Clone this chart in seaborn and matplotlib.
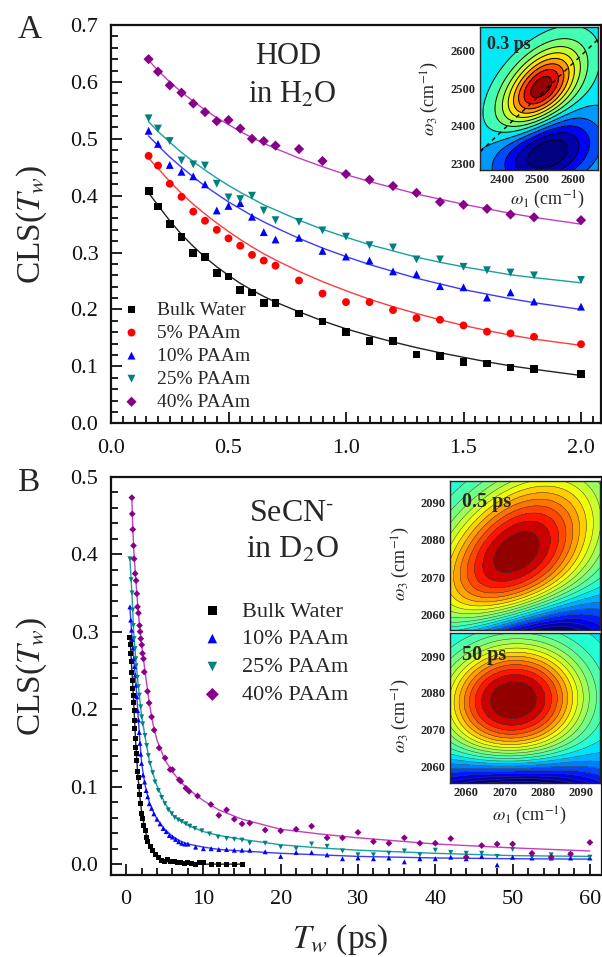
import numpy as np
import seaborn as sns
import matplotlib.pyplot as plt
from matplotlib.ticker import MultipleLocator, FormatStrFormatter

# ---------------- Panel A: HOD in H2O ----------------
tw_a = [0.16, 0.2, 0.25, 0.3, 0.35, 0.4, 0.45, 0.5, 0.55, 0.6, 0.65, 0.7,
        0.8, 0.9, 1.0, 1.1, 1.2, 1.3, 1.4, 1.5, 1.6, 1.7, 1.8, 2.0]
bulk_a = [0.409, 0.381, 0.350, 0.328, 0.300, 0.292, 0.264, 0.258, 0.234, 0.230, 0.212, 0.211,
          0.193, 0.179, 0.161, 0.145, 0.145, 0.121, 0.119, 0.108, 0.105, 0.098, 0.095, 0.087]
p5_a = [0.470, 0.453, 0.421, 0.398, 0.372, 0.356, 0.340, 0.325, 0.312, 0.296, 0.286, 0.277,
        0.251, 0.228, 0.213, 0.213, 0.199, 0.185, 0.182, 0.172, 0.161, 0.158, 0.152, 0.139]
p10_a = [0.514, 0.491, 0.454, 0.442, 0.434, 0.420, 0.374, 0.382, 0.387, 0.363, 0.336, 0.323,
         0.326, 0.303, 0.293, 0.286, 0.267, 0.262, 0.241, 0.239, 0.221, 0.230, 0.214, 0.205]
p25_a = [0.536, 0.518, 0.496, 0.462, 0.455, 0.453, 0.421, 0.397, 0.394, 0.400, 0.374, 0.357,
         0.354, 0.339, 0.328, 0.313, 0.309, 0.288, 0.288, 0.275, 0.269, 0.265, 0.260, 0.252]
p40_a = [0.640, 0.618, 0.594, 0.581, 0.562, 0.547, 0.531, 0.533, 0.518, 0.500, 0.496, 0.488,
         0.482, 0.461, 0.438, 0.428, 0.417, 0.405, 0.389, 0.384, 0.377, 0.367, 0.362, 0.357]

# fit curves (same Tw grid)
fit_bulk_a = [0.405, 0.383, 0.356, 0.332, 0.311, 0.292, 0.275, 0.260, 0.246, 0.234, 0.223, 0.213,
              0.196, 0.180, 0.166, 0.154, 0.143, 0.133, 0.124, 0.116, 0.108, 0.101, 0.095, 0.084]
fit_p5_a = [0.466, 0.448, 0.425, 0.404, 0.385, 0.368, 0.352, 0.337, 0.323, 0.310, 0.298, 0.287,
            0.267, 0.249, 0.233, 0.218, 0.205, 0.193, 0.182, 0.172, 0.163, 0.155, 0.148, 0.137]
fit_p10_a = [0.505, 0.488, 0.468, 0.450, 0.433, 0.417, 0.403, 0.389, 0.377, 0.365, 0.354, 0.344,
             0.325, 0.308, 0.293, 0.279, 0.267, 0.255, 0.245, 0.235, 0.227, 0.219, 0.212, 0.200]
fit_p25_a = [0.530, 0.513, 0.494, 0.476, 0.460, 0.445, 0.431, 0.418, 0.406, 0.395, 0.384, 0.375,
             0.357, 0.341, 0.327, 0.314, 0.303, 0.292, 0.283, 0.275, 0.268, 0.261, 0.256, 0.247]
fit_p40_a = [0.638, 0.620, 0.600, 0.582, 0.566, 0.551, 0.537, 0.525, 0.513, 0.502, 0.492, 0.483,
             0.466, 0.451, 0.437, 0.425, 0.414, 0.403, 0.394, 0.385, 0.377, 0.369, 0.362, 0.350]

# ---------------- Panel B: SeCN- in D2O ----------------
bulk_b_x = [0.5, 0.55, 0.6, 0.65, 0.7, 0.8, 0.85, 0.9, 1.0, 1.05, 1.1, 1.15, 1.2, 1.25, 1.3,
            1.4, 1.5, 1.6, 1.7, 1.8, 1.9, 2.0, 2.1, 2.3, 2.5, 2.6, 2.8, 3.1, 3.4, 3.8, 4.2,
            4.6, 5.0, 5.4, 5.8, 6.2, 6.6, 7.0, 7.5, 8.0, 8.5, 9.0, 9.5, 10, 11, 12, 13, 14, 15]
bulk_b_y = [0.293, 0.283, 0.272, 0.262, 0.247, 0.237, 0.227, 0.218, 0.209, 0.198, 0.186, 0.175,
            0.162, 0.150, 0.143, 0.134, 0.119, 0.112, 0.100, 0.090, 0.078, 0.066, 0.059, 0.050,
            0.043, 0.035, 0.029, 0.023, 0.018, 0.013, 0.009, 0.005, 0.004, 0.006, 0.003, 0.004,
            0.002, 0.002, 0.001, 0.002, 0.001, 0.000, 0.002, 0.002, 0.000, 0.000, 0.000, 0.000,
            -0.001]
p10_b_x = [0.5, 0.6, 0.7, 0.8, 0.9, 1.0, 1.1, 1.2, 1.3, 1.4, 1.5, 1.6, 1.7, 1.8, 1.9, 2.0,
           2.2, 2.4, 2.6, 2.8, 3.0, 3.3, 3.6, 4.0, 4.4, 4.8, 5.2, 5.6, 6.0, 6.4, 6.8, 7.2, 7.6,
           8.0, 9.0, 10, 11, 12, 13, 14, 15, 16, 18, 20, 22, 24, 26, 28, 30, 32, 34, 36, 38,
           40, 42, 44, 46, 48, 50, 52.5, 55, 57.5, 60]
p10_b_y = [0.332, 0.315, 0.302, 0.290, 0.279, 0.265, 0.255, 0.244, 0.231, 0.216, 0.198, 0.186,
           0.170, 0.156, 0.142, 0.130, 0.115, 0.106, 0.095, 0.087, 0.078, 0.072, 0.065, 0.058,
           0.052, 0.046, 0.042, 0.037, 0.035, 0.032, 0.029, 0.027, 0.026, 0.026, 0.022, 0.020,
           0.020, 0.019, 0.019, 0.018, 0.018, 0.018, 0.016, 0.010, 0.015, 0.015, 0.012, 0.007,
           0.008, 0.007, 0.008, 0.003, 0.007, 0.007, 0.009, 0.007, 0.010, -0.001, 0.009, 0.008,
           0.008, 0.008, 0.008]
p25_b_x = [0.5, 0.65, 0.77, 0.86, 0.94, 1.03, 1.16, 1.25, 1.3, 1.46, 1.59, 1.72, 1.9, 2.02,
           2.15, 2.45, 2.67, 2.88, 3.1, 3.44, 3.74, 4.17, 4.6, 5.03, 5.46, 5.9, 6.3, 6.75, 7.2,
           7.74, 8.26, 8.9, 9.8, 10.8, 11.9, 13, 14, 15, 16, 18, 20, 22, 24, 26, 28, 30, 32,
           34, 36, 38, 40, 42, 44, 46, 48, 50, 52.5, 55, 57.5, 60]
p25_b_y = [0.394, 0.367, 0.350, 0.328, 0.308, 0.291, 0.278, 0.265, 0.256, 0.241, 0.229, 0.218,
           0.203, 0.190, 0.181, 0.166, 0.153, 0.140, 0.130, 0.118, 0.106, 0.095, 0.086, 0.078,
           0.070, 0.065, 0.060, 0.057, 0.055, 0.052, 0.049, 0.046, 0.043, 0.039, 0.035, 0.033,
           0.032, 0.031, 0.027, 0.027, 0.022, 0.020, 0.026, 0.023, 0.017, 0.012, 0.012, 0.014,
           0.017, 0.012, 0.018, 0.015, 0.014, 0.014, 0.010, 0.019, 0.009, 0.012, 0.012, 0.009]
p40_b_x = [0.75, 0.8, 0.87, 0.96, 1.04, 1.17, 1.3, 1.39, 1.48, 1.6, 1.74, 1.81, 1.9, 2.03,
           2.12, 2.25, 2.35, 2.77, 2.98, 3.3, 3.63, 4.28, 5.05, 5.7, 6.0, 6.87, 7.08, 7.73,
           8.16, 9.25, 10.97, 12.0, 13.0, 14.0, 15.0, 16.0, 18, 20, 22, 24, 26, 28, 30, 32,
           34, 36, 38, 40, 42, 44, 46, 48, 50, 52.5, 55, 57.5, 60]
p40_b_y = [0.473, 0.452, 0.432, 0.411, 0.394, 0.375, 0.366, 0.349, 0.332, 0.324, 0.308, 0.300,
           0.291, 0.283, 0.272, 0.265, 0.248, 0.223, 0.208, 0.190, 0.173, 0.150, 0.137, 0.122,
           0.122, 0.109, 0.107, 0.098, 0.094, 0.088, 0.077, 0.063, 0.070, 0.058, 0.052, 0.053,
           0.044, 0.043, 0.045, 0.049, 0.034, 0.034, 0.041, 0.029, 0.027, 0.034, 0.027, 0.027,
           0.033, 0.009, 0.024, 0.026, 0.026, 0.014, 0.009, 0.013, 0.028]

# fit curves
fit_bulk_b_x = [0.5, 0.75, 1.0, 1.25, 1.5, 1.75, 2.0, 2.5, 3.0, 3.5, 4.0, 5.0, 6.0, 8.0, 10, 12, 15]
fit_bulk_b_y = [0.293, 0.250, 0.207, 0.155, 0.118, 0.090, 0.068, 0.042, 0.026, 0.016, 0.010,
                0.004, 0.002, 0.001, 0.000, 0.000, 0.000]
fit_p10_b_x = [0.5, 0.75, 1.0, 1.25, 1.5, 1.75, 2.0, 2.25, 2.5, 3.0, 3.5, 4.0, 5.0, 6.0, 7.0,
               8.0, 10, 12, 15, 20, 30, 40, 50, 60]
fit_p10_b_y = [0.330, 0.296, 0.265, 0.236, 0.200, 0.163, 0.132, 0.114, 0.100, 0.080, 0.068,
               0.058, 0.045, 0.036, 0.030, 0.026, 0.022, 0.019, 0.017, 0.014, 0.010, 0.008,
               0.007, 0.0065]
fit_p25_b_x = [0.5, 0.75, 1.0, 1.25, 1.5, 1.75, 2.0, 2.5, 3.0, 3.5, 4.0, 5.0, 6.0, 7.0, 8.0,
               10, 12, 15, 20, 25, 30, 40, 50, 60]
fit_p25_b_y = [0.394, 0.350, 0.297, 0.265, 0.238, 0.215, 0.192, 0.162, 0.134, 0.116, 0.101,
               0.079, 0.064, 0.056, 0.050, 0.042, 0.037, 0.032, 0.025, 0.021, 0.018, 0.014,
               0.011, 0.010]
fit_p40_b_x = [0.75, 0.875, 1.0, 1.25, 1.5, 1.75, 2.0, 2.5, 3.0, 3.5, 4.0, 5.0, 6.0, 7.0, 8.0,
               10, 12, 15, 20, 25, 30, 40, 50, 60]
fit_p40_b_y = [0.470, 0.432, 0.405, 0.368, 0.335, 0.307, 0.284, 0.245, 0.208, 0.180, 0.160,
               0.135, 0.119, 0.107, 0.097, 0.082, 0.070, 0.058, 0.045, 0.039, 0.034, 0.026,
               0.021, 0.017]

# ---------------- inset 2D IR peaks: cx, cy, sx, sy, rho, amp, shape ----------------
hod_pos = [2510, 2500, 72, 72, 0.50, 1.0, 1.0]
hod_neg = [2525, 2328, 95, 65, 0.30, -0.65, 1.0]
hod_diag_w1 = [2340, 2670]
hod_diag_w3 = [2330, 2630]
secn05_pos = [2073, 2076, 15.1, 15.1, 0.42, 1.0, 1.1]
secn05_neg = [2074, 2049, 16, 9, 0.30, -1.0, 1.0]
secn50_pos = [2072.3, 2078, 12.5, 10.5, 0.05, 1.0, 1.25]
secn50_neg = [2073, 2050, 20, 7, 0.0, -0.9, 1.0]

marker_colors = ['#000000', '#ff0000', '#0000ff', '#008080', '#880088']
line_colors = ['#222222', '#ff3b3b', '#3b3bff', '#1aa0a0', '#c23fc2']
markers = ['s', 'o', '^', 'v', 'D']

sns.set_style("ticks")
plt.rcParams['font.family'] = ['Liberation Serif', 'DejaVu Serif']
plt.rcParams['mathtext.fontset'] = 'stix'

fig = plt.figure(figsize=(6.02, 9.57), dpi=100)
W, H = 602.0, 957.0


def frac(x0, y0, x1, y1):
    # pixel box -> figure fraction rect
    return [x0 / W, 1 - y1 / H, (x1 - x0) / W, (y1 - y0) / H]


def style_main(ax, xmaj, xmin, ymaj, ymin):
    ax.xaxis.set_major_locator(MultipleLocator(xmaj))
    ax.xaxis.set_minor_locator(MultipleLocator(xmin))
    ax.yaxis.set_major_locator(MultipleLocator(ymaj))
    ax.yaxis.set_minor_locator(MultipleLocator(ymin))
    ax.tick_params(which='both', direction='in', top=False, right=False,
                   labelsize=16, width=1.3, colors='#111111')
    ax.tick_params(which='major', length=8)
    ax.tick_params(which='minor', length=5)
    ax.tick_params(axis='y', pad=9)
    ax.tick_params(axis='x', pad=11)
    for s in ax.spines.values():
        s.set_linewidth(1.6)
        s.set_color('#111111')


# ---------------- panel A ----------------
ax_a = fig.add_axes(frac(111, 25, 601, 423.3))
series_a = [bulk_a, p5_a, p10_a, p25_a, p40_a]
fits_a = [fit_bulk_a, fit_p5_a, fit_p10_a, fit_p25_a, fit_p40_a]
labels_a = ['Bulk Water', '5% PAAm', '10% PAAm', '25% PAAm', '40% PAAm']
for i in range(5):
    sns.lineplot(x=tw_a, y=fits_a[i], color=line_colors[i], lw=1.0, ax=ax_a,
                 sort=False, estimator=None, zorder=2)
    sns.scatterplot(x=tw_a, y=series_a[i], marker=markers[i], color=marker_colors[i],
                    s=32 if markers[i] != 'D' else 27, edgecolor='none', ax=ax_a,
                    label=labels_a[i], zorder=3)
ax_a.set_xlim(0, 2.085)
ax_a.set_ylim(0, 0.7)
style_main(ax_a, 0.5, 0.05, 0.1, 0.02)
ax_a.xaxis.set_major_formatter(FormatStrFormatter('%.1f'))
ax_a.yaxis.set_major_formatter(FormatStrFormatter('%.1f'))
ax_a.set_ylabel('CLS($T_w$)', fontsize=24)
ax_a.yaxis.set_label_coords(-0.127, 0.5)
ax_a.set_xlabel('')
ax_a.legend(loc='upper left', bbox_to_anchor=(0.022, 0.307), frameon=False, fontsize=14,
            handlelength=1.0, handletextpad=0.8, labelspacing=0.28, borderpad=0,
            borderaxespad=0, scatterpoints=1, markerscale=1.0)
ax_a.text(0.362, 0.903, 'HOD', transform=ax_a.transAxes, fontsize=22,
          ha='center', va='baseline')
ax_a.text(0.370, 0.805, 'in H$_2$O', transform=ax_a.transAxes, fontsize=22,
          ha='center', va='baseline')

# ---------------- panel B ----------------
ax_b = fig.add_axes(frac(111, 476.7, 601.5, 875))
xs_b = [bulk_b_x, p10_b_x, p25_b_x, p40_b_x]
ys_b = [bulk_b_y, p10_b_y, p25_b_y, p40_b_y]
fx_b = [fit_bulk_b_x, fit_p10_b_x, fit_p25_b_x, fit_p40_b_x]
fy_b = [fit_bulk_b_y, fit_p10_b_y, fit_p25_b_y, fit_p40_b_y]
labels_b = ['Bulk Water', '10% PAAm', '25% PAAm', '40% PAAm']
idx_b = [0, 2, 3, 4]
for j, i in enumerate(idx_b):
    sns.lineplot(x=fx_b[j], y=fy_b[j], color=line_colors[i], lw=1.0, ax=ax_b,
                 sort=False, estimator=None, zorder=2)
    sns.scatterplot(x=xs_b[j], y=ys_b[j], marker=markers[i], color=marker_colors[i],
                    s=13 if markers[i] != 'D' else 12, edgecolor='none', ax=ax_b,
                    label=labels_b[j], zorder=3)
ax_b.set_xlim(-1.95, 61.5)
ax_b.set_ylim(-0.014, 0.5)
style_main(ax_b, 10, 2, 0.1, 0.02)
ax_b.yaxis.set_major_formatter(FormatStrFormatter('%.1f'))
ax_b.set_ylabel('CLS($T_w$)', fontsize=24)
ax_b.yaxis.set_label_coords(-0.127, 0.5)
ax_b.set_xlabel('$T_w$ (ps)', fontsize=24)
ax_b.xaxis.set_label_coords(0.467, -0.119)
ax_b.legend(loc='upper left', bbox_to_anchor=(0.184, 0.688), frameon=False, fontsize=16,
            handlelength=1.0, handletextpad=0.85, labelspacing=0.33, borderpad=0,
            borderaxespad=0, scatterpoints=1, markerscale=1.9)
ax_b.text(0.369, 0.890, r'SeCN$^{\text{-}}$', transform=ax_b.transAxes, fontsize=23,
          ha='center', va='baseline')
ax_b.text(0.369, 0.797, 'in D$_2$O', transform=ax_b.transAxes, fontsize=23,
          ha='center', va='baseline')

fig.text(30 / W, 1 - 30 / H, 'A', fontsize=24, ha='center', va='center')
fig.text(28 / W, 1 - 483 / H, 'B', fontsize=24, ha='center', va='center')


# ---------------- insets ----------------
def peak(X, Y, p):
    cx, cy, sx, sy, rho, amp, shape = p
    dx = (X - cx) / sx
    dy = (Y - cy) / sy
    q = (dx ** 2 - 2 * rho * dx * dy + dy ** 2) / (2 * (1 - rho ** 2))
    return amp * np.exp(-q ** shape)


def style_inset(ax, xt, yt, xminor, yminor, show_x=True):
    ax.set_xticks(xt)
    ax.set_yticks(yt)
    ax.xaxis.set_minor_locator(MultipleLocator(xminor))
    ax.yaxis.set_minor_locator(MultipleLocator(yminor))
    ax.tick_params(which='both', direction='in', top=False, right=False,
                   labelsize=9, width=0.8, pad=3, labelbottom=show_x)
    ax.tick_params(which='major', length=4)
    ax.tick_params(which='minor', length=2)
    for lab in ax.get_xticklabels() + ax.get_yticklabels():
        lab.set_fontweight('bold')
    for s in ax.spines.values():
        s.set_linewidth(1.0)


# A inset: HOD 0.3 ps
ins_a = fig.add_axes(frac(480, 26.7, 598.3, 170))
w1 = np.linspace(2340, 2670, 220)
w3 = np.linspace(2282, 2663, 220)
X, Y = np.meshgrid(w1, w3)
Z = peak(X, Y, hod_pos) + peak(X, Y, hod_neg)
lev_a = -0.05 + 0.12 * np.arange(-5, 10)
ins_a.contourf(X, Y, Z, levels=lev_a, cmap='jet', vmin=-0.53, vmax=1.0, extend='both')
ins_a.contour(X, Y, Z, levels=lev_a, colors='k', linewidths=0.7, linestyles='solid')
ins_a.plot(hod_diag_w1, hod_diag_w3, color='k', ls=(0, (3, 3)), lw=1.0)
ins_a.set_xlim(2340, 2670)
ins_a.set_ylim(2282, 2663)
style_inset(ins_a, [2400, 2500, 2600], [2300, 2400, 2500, 2600], 20, 20)
ins_a.set_ylabel(r'$\omega_3$ (cm$^{-1}$)', fontsize=13)
ins_a.yaxis.set_label_coords(-0.33, 0.5)
ins_a.set_xlabel(r'$\omega_1$ (cm$^{-1}$)', fontsize=13)
ins_a.xaxis.set_label_coords(0.57, -0.13)
ins_a.text(0.057, 0.935, '0.3 ps', transform=ins_a.transAxes, fontsize=13,
           fontweight='bold', ha='left', va='top')

# B insets: SeCN- 0.5 ps and 50 ps
lev_b = -0.04 + 0.075 * np.arange(-8, 15)
for p_pos, p_neg, box, ylim, tag, show_x in [
        (secn05_pos, secn05_neg, (450, 481, 600, 630), (2055.8, 2095.8), '0.5 ps', False),
        (secn50_pos, secn50_neg, (450, 633.3, 600, 783), (2055.5, 2096.2), '50 ps', True)]:
    ax_i = fig.add_axes(frac(*box))
    w1 = np.linspace(2055.7, 2095, 200)
    w3 = np.linspace(ylim[0], ylim[1], 200)
    X, Y = np.meshgrid(w1, w3)
    Z = peak(X, Y, p_pos) + peak(X, Y, p_neg)
    ax_i.contourf(X, Y, Z, levels=lev_b, cmap='jet', vmin=-0.53, vmax=1.0, extend='both')
    ax_i.contour(X, Y, Z, levels=lev_b, colors='#3a3a3a', linewidths=0.35,
                 linestyles='solid')
    ax_i.set_xlim(2055.7, 2095)
    ax_i.set_ylim(*ylim)
    style_inset(ax_i, [2060, 2070, 2080, 2090], [2060, 2070, 2080, 2090], 2, 2, show_x)
    ax_i.set_ylabel(r'$\omega_3$ (cm$^{-1}$)', fontsize=13)
    ax_i.yaxis.set_label_coords(-0.25, 0.45)
    if show_x:
        ax_i.set_xlabel(r'$\omega_1$ (cm$^{-1}$)', fontsize=13)
        ax_i.xaxis.set_label_coords(0.53, -0.145)
    ax_i.text(0.078, 0.925, tag, transform=ax_i.transAxes, fontsize=14.5,
              fontweight='bold', ha='left', va='top')

fig.savefig('out.png', dpi=100)
